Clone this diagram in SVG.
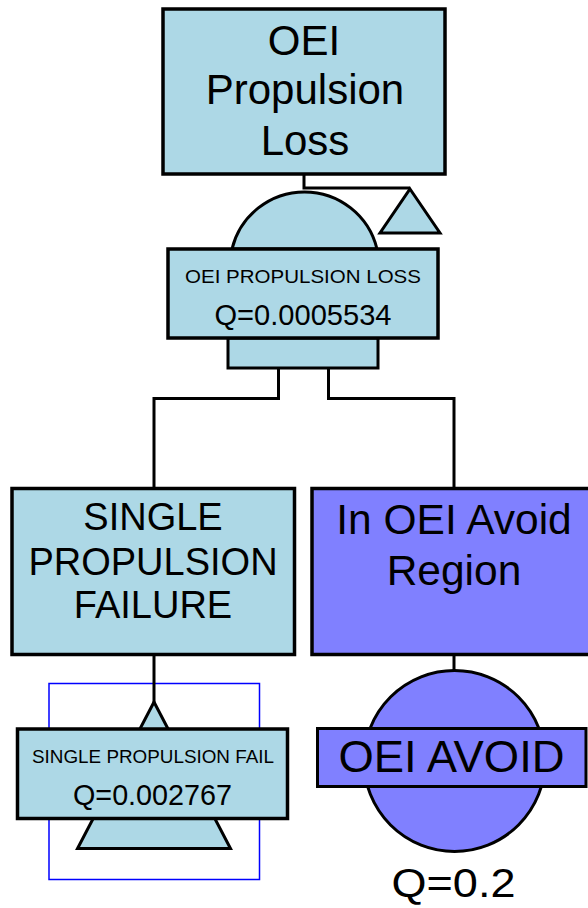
<svg xmlns="http://www.w3.org/2000/svg" width="588" height="908" viewBox="0 0 588 908">
<style>
  .lb{fill:#ADD8E6;stroke:#000;stroke-width:3.5}
  .pb{fill:#8080FF;stroke:#000;stroke-width:3.5}
  .g{stroke-width:3}
  .conn{fill:none;stroke:#000;stroke-width:3}
  .frame{fill:none;stroke:#0000FF;stroke-width:1.5}
  text{font-family:"Liberation Sans",Arial,sans-serif;fill:#000;text-anchor:middle}
  .big{font-size:42px}
  .mid{font-size:38px}
  .small{font-size:18.5px}
  .q{font-size:29.5px}
</style>
<rect width="588" height="908" fill="#fff"/>

<g id="top-event">
  <rect class="lb" x="163" y="9" width="282" height="165"/>
  <text class="big" x="304" y="55">OEI</text>
  <text class="big" x="305" y="104">Propulsion</text>
  <text class="big" x="305" y="155">Loss</text>
</g>

<g id="gate-oei-propulsion-loss">
  <path class="lb g" d="M232,249 A74.6,74.6 0 0 1 377,249 Z"/>
  <rect class="lb g" x="228" y="338" width="150" height="30"/>
  <rect class="lb" x="168" y="249" width="270" height="89"/>
  <text class="small" x="303" y="283" textLength="236" lengthAdjust="spacingAndGlyphs">OEI PROPULSION LOSS</text>
  <text class="q" x="303" y="325" textLength="177" lengthAdjust="spacingAndGlyphs">Q=0.0005534</text>
</g>

<g id="transfer-out">
  <path class="lb g" d="M410,189 L440,233 L380,233 Z"/>
</g>

<g id="single-propulsion-failure">
  <rect class="lb" x="12" y="488.5" width="282.5" height="166"/>
  <text class="mid" x="153" y="530">SINGLE</text>
  <text class="mid" x="153" y="575">PROPULSION</text>
  <text class="mid" x="153" y="618">FAILURE</text>
</g>

<g id="in-oei-avoid-region">
  <rect class="pb" x="312" y="488.5" width="290" height="166"/>
  <text class="big" x="454" y="533.5" style="font-size:42.5px">In OEI Avoid</text>
  <text class="big" x="454" y="585" style="font-size:42.5px">Region</text>
</g>

<g id="transfer-in-single-propulsion-fail">
  <rect class="frame" x="49" y="683.5" width="210.5" height="196"/>
  <path class="lb g" d="M154,702 L230.5,848.5 L77.5,848.5 Z"/>
  <rect class="lb" x="17.5" y="729" width="270" height="89.5"/>
  <text class="small" x="153" y="763" textLength="242" lengthAdjust="spacingAndGlyphs">SINGLE PROPULSION FAIL</text>
  <text class="q" x="152.5" y="805" textLength="159" lengthAdjust="spacingAndGlyphs">Q=0.002767</text>
</g>

<g id="basic-oei-avoid">
  <circle class="pb g" cx="454.5" cy="761" r="90.5"/>
  <rect class="pb g" x="317.5" y="728.5" width="268.5" height="58"/>
  <text x="451.5" y="772" style="font-size:44px" textLength="226" lengthAdjust="spacingAndGlyphs">OEI AVOID</text>
  <text x="453.5" y="897" style="font-size:41px" textLength="124" lengthAdjust="spacingAndGlyphs">Q=0.2</text>
</g>

<g id="connectors">
  <path class="conn" d="M304,174 V188 H410"/>
  <path class="conn" d="M278.5,368 V398.5 H154 V488.5"/>
  <path class="conn" d="M328.5,368 V398.5 H454 V488.5"/>
  <path class="conn" d="M154,654.5 V703"/>
  <path class="conn" d="M454,654.5 V671"/>
</g>
</svg>
